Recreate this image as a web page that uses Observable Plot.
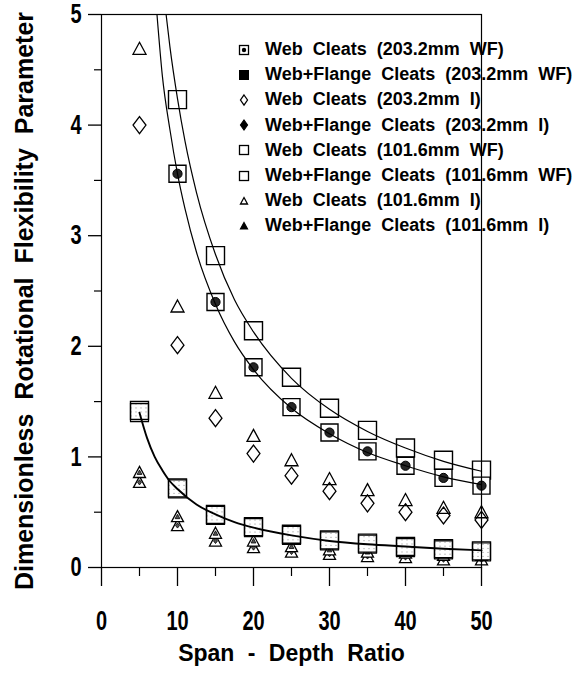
<!DOCTYPE html>
<html>
<head>
<meta charset="utf-8">
<script src="https://cdn.jsdelivr.net/npm/d3@7"></script>
<script src="https://cdn.jsdelivr.net/npm/@observablehq/plot@0.6"></script>
<style>
  body { margin: 0; background: #fff; }
  #chart { position: relative; width: 585px; height: 677px; }
  #chart svg text { word-spacing: 7px; }
  #legend {
    position: absolute; left: 234px; top: 37px;
    font-family: "Liberation Sans", Arial, sans-serif; font-weight: bold;
    font-size: 18px; word-spacing: 5px; color: #000;
  }
  #legend .row { height: 25.2px; display: flex; align-items: center; white-space: nowrap; }
  #legend .row svg { width: 20px; height: 20px; margin-right: 11px; flex: none; }
</style>
</head>
<body>
<div id="chart"><div id="legend"></div></div>
<script>
// Span-depth ratios at which the cleated connections were evaluated
const spanDepth = [5, 10, 15, 20, 25, 30, 35, 40, 45, 50];

// Dimensionless rotational flexibility parameter for each connection type
const webWF203       = [null, 3.56, 2.40, 1.81, 1.45, 1.22, 1.05, 0.92, 0.81, 0.74];
const webFlangeWF203 = [1.42, 0.72, 0.48, 0.37, 0.30, 0.25, 0.22, 0.19, 0.17, 0.15];
const webI203        = [4.00, 2.01, 1.35, 1.03, 0.83, 0.69, 0.58, 0.50, 0.47, 0.43];
const webFlangeI203  = [0.77, 0.38, 0.24, 0.18, 0.14, 0.12, 0.10, 0.09, 0.07, 0.07];
const webWF101       = [null, 4.23, 2.82, 2.14, 1.72, 1.44, 1.24, 1.08, 0.97, 0.88];
const webFlangeWF101 = [1.40, 0.71, 0.47, 0.36, 0.29, 0.24, 0.21, 0.18, 0.16, 0.14];
const webI101        = [4.69, 2.36, 1.58, 1.19, 0.97, 0.80, 0.70, 0.61, 0.54, 0.50];
const webFlangeI101  = [0.86, 0.46, 0.31, 0.24, 0.19, 0.16, 0.14, 0.13, 0.11, 0.11];

// Fitted curves
const fitWF101X = [8.5, 9, 10, 11, 12.5, 15, 17.5, 20, 25, 30, 35, 40, 45, 50];
const fitWF101Y = [5.0, 4.71, 4.24, 3.85, 3.39, 2.83, 2.42, 2.13, 1.71, 1.43, 1.23, 1.08, 0.96, 0.87];
const fitWF203X = [7.3, 8, 9, 10, 11, 12.5, 15, 17.5, 20, 25, 30, 35, 40, 45, 50];
const fitWF203Y = [5.0, 4.45, 3.96, 3.56, 3.24, 2.85, 2.38, 2.04, 1.79, 1.44, 1.21, 1.04, 0.92, 0.82, 0.75];
const fitFlangeX = [5, 6, 7, 8, 9, 10, 12.5, 15, 17.5, 20, 25, 30, 35, 40, 45, 50];
const fitFlangeY = [1.40, 1.17, 1.00, 0.88, 0.78, 0.71, 0.57, 0.48, 0.41, 0.36, 0.29, 0.24, 0.21, 0.19, 0.17, 0.155];

// Axis ticks
const xTicks = [0, 10, 20, 30, 40, 50];
const xMinor = [5, 15, 25, 35, 45];
const yTicks = [0, 1, 2, 3, 4, 5];
const yMinor = [0.5, 1.5, 2.5, 3.5, 4.5];

const xTitle = "Span - Depth Ratio";
const yTitle = "Dimensionless Rotational Flexibility Parameter";

const legendLabels = [
  "Web Cleats (203.2mm WF)",
  "Web+Flange Cleats (203.2mm WF)",
  "Web Cleats (203.2mm I)",
  "Web+Flange Cleats (203.2mm I)",
  "Web Cleats (101.6mm WF)",
  "Web+Flange Cleats (101.6mm WF)",
  "Web Cleats (101.6mm I)",
  "Web+Flange Cleats (101.6mm I)"
];

const rows = (vals) => spanDepth.map((x, i) => ({x, y: vals[i]})).filter((d) => d.y != null);
const curve = (xs, ys) => xs.map((x, i) => ({x, y: ys[i]}));

// Custom marker shapes (r is half the nominal extent)
const squareSym = {draw(c, size) { const r = Math.sqrt(size / Math.PI); c.moveTo(-r, -r); c.lineTo(r, -r); c.lineTo(r, r); c.lineTo(-r, r); c.closePath(); }};
const tallDiamond = {draw(c, size) { const r = Math.sqrt(size / Math.PI), w = r * 0.76; c.moveTo(0, -r); c.lineTo(w, 0); c.lineTo(0, r); c.lineTo(-w, 0); c.closePath(); }};
const triangleSym = {draw(c, size) { const r = Math.sqrt(size / Math.PI); c.moveTo(0, -r); c.lineTo(r, r * 0.85); c.lineTo(-r, r * 0.85); c.closePath(); }};

const font = '"Liberation Sans", Arial, sans-serif';

const plot = Plot.plot({
  width: 585,
  height: 677,
  marginLeft: 101,
  marginRight: 104,
  marginTop: 14,
  marginBottom: 110,
  style: {fontFamily: font, fontWeight: "bold", fontSize: "26px", color: "#000", background: "#fff"},
  x: {domain: [0, 50], axis: null},
  y: {domain: [0, 5], axis: null},
  marks: [
    // Ticks: long at labelled values, short in between
    Plot.ruleX(xTicks, {y1: 0, y2: 0, insetBottom: -19, stroke: "#000", strokeWidth: 1.3}),
    Plot.ruleX(xMinor, {y1: 0, y2: 0, insetBottom: -9, stroke: "#000", strokeWidth: 1.2}),
    Plot.ruleY(yTicks, {x1: 0, x2: 0, insetLeft: -13, stroke: "#000", strokeWidth: 1.3}),
    Plot.ruleY(yMinor, {x1: 0, x2: 0, insetLeft: -7, stroke: "#000", strokeWidth: 1.2}),

    // Tick labels
    Plot.text(xTicks, {x: (d) => d, frameAnchor: "bottom", lineAnchor: "top", dy: 43, text: (d) => String(d), fontSize: 27, fontWeight: "bold", fill: "#000"}),
    Plot.text(yTicks, {y: (d) => d, frameAnchor: "left", textAnchor: "end", dx: -20, text: (d) => String(d), fontSize: 27, fontWeight: "bold", fill: "#000"}),

    // Web cleats, I sections
    Plot.dot(rows(webI203), {x: "x", y: "y", symbol: tallDiamond, r: 8.5, stroke: "#000", strokeWidth: 1.3, fill: "none"}),
    Plot.dot(rows(webI101), {x: "x", y: "y", symbol: triangleSym, r: 6.5, stroke: "#000", strokeWidth: 1.3, fill: "none"}),

    // Web+flange cleats, I sections
    Plot.dot(rows(webFlangeI203), {x: "x", y: "y", symbol: triangleSym, r: 6, stroke: "#000", strokeWidth: 1.3, fill: "#fff"}),
    Plot.dot(rows(webFlangeI203), {x: "x", y: "y", symbol: tallDiamond, r: 2.6, stroke: "#000", strokeWidth: 0.8, fill: "#555"}),
    Plot.dot(rows(webFlangeI101), {x: "x", y: "y", symbol: triangleSym, r: 6, stroke: "#000", strokeWidth: 1.3, fill: "#fff"}),
    Plot.dot(rows(webFlangeI101), {x: "x", y: "y", symbol: triangleSym, r: 2.4, stroke: "#000", strokeWidth: 0.8, fill: "#555"}),

    // Wide-flange sections
    Plot.dot(rows(webFlangeWF203), {x: "x", y: "y", symbol: squareSym, r: 9, stroke: "#000", strokeWidth: 1.4, fill: "url(#stipple)"}),
    Plot.dot(rows(webFlangeWF101), {x: "x", y: "y", symbol: squareSym, r: 9, stroke: "#000", strokeWidth: 1.2, fill: "none"}),
    Plot.dot(rows(webWF101), {x: "x", y: "y", symbol: squareSym, r: 9, stroke: "#000", strokeWidth: 1.4, fill: "#fff"}),
    Plot.dot(rows(webWF203), {x: "x", y: "y", symbol: squareSym, r: 8.5, stroke: "#000", strokeWidth: 1.4, fill: "#fff"}),
    Plot.dot(rows(webWF203), {x: "x", y: "y", r: 4.6, stroke: "#000", strokeWidth: 1, fill: "#262626"}),

    // Fitted curves
    Plot.line(curve(fitWF101X, fitWF101Y), {x: "x", y: "y", curve: "monotone-x", stroke: "#000", strokeWidth: 1.2}),
    Plot.line(curve(fitWF203X, fitWF203Y), {x: "x", y: "y", curve: "monotone-x", stroke: "#000", strokeWidth: 1.2}),
    Plot.line(curve(fitFlangeX, fitFlangeY), {x: "x", y: "y", curve: "monotone-x", stroke: "#000", strokeWidth: 1.9}),

    Plot.frame({stroke: "#000", strokeWidth: 1.2}),

    // Axis titles
    Plot.text([xTitle], {frameAnchor: "bottom", dy: 93, fontSize: 23, fontWeight: "bold", fill: "#000"}),
    Plot.text([yTitle], {frameAnchor: "left", textAnchor: "middle", dx: -77, dy: 10, rotate: -90, fontSize: 25, fontWeight: "bold", fill: "#000"})
  ]
});

// Sparse dot pattern for the stippled squares
const ns = "http://www.w3.org/2000/svg";
const defs = document.createElementNS(ns, "defs");
defs.innerHTML = '<pattern id="stipple" width="5" height="4" patternUnits="userSpaceOnUse">' +
  '<rect width="5" height="4" fill="#fff"/><circle cx="1.5" cy="1.5" r="0.55" fill="#777"/></pattern>';
plot.insertBefore(defs, plot.firstChild);

document.getElementById("chart").prepend(plot);

// Narrow the tall tick numerals (condensed face)
plot.querySelectorAll("text").forEach((t) => {
  if (/^\d+$/.test(t.textContent.trim())) {
    const w = t.getComputedTextLength();
    t.setAttribute("textLength", (w * 0.74).toFixed(2));
    t.setAttribute("lengthAdjust", "spacingAndGlyphs");
  }
});

// Legend inside the plot area
const legendSymbols = [
  '<rect x="5.5" y="5.5" width="9" height="9" fill="#fff" stroke="#000" stroke-width="1.3"/><circle cx="10" cy="10" r="2.2" fill="#000"/>',
  '<rect x="5.5" y="5.5" width="9" height="9" fill="#000" stroke="#000" stroke-width="1"/>',
  '<path d="M10,5 L13.5,10 L10,15 L6.5,10 Z" fill="#fff" stroke="#000" stroke-width="1.3"/>',
  '<path d="M10,5 L13.5,10 L10,15 L6.5,10 Z" fill="#000" stroke="#000" stroke-width="1.2"/>',
  '<rect x="5.5" y="5.5" width="9" height="9" fill="#fff" stroke="#000" stroke-width="1.3"/>',
  '<rect x="5.5" y="5.5" width="9" height="9" fill="#fff" stroke="#000" stroke-width="1.3"/>',
  '<path d="M10,6.5 L13.5,13 L6.5,13 Z" fill="#fff" stroke="#000" stroke-width="1.3"/>',
  '<path d="M10,6.5 L13.5,13 L6.5,13 Z" fill="#000" stroke="#000" stroke-width="1.2"/>'
];
const legend = d3.select("#legend");
legendLabels.forEach((label, i) => {
  const row = legend.append("div").attr("class", "row");
  row.append("svg").attr("viewBox", "0 0 20 20").html(legendSymbols[i]);
  row.append("span").text(label);
});
</script>
</body>
</html>
